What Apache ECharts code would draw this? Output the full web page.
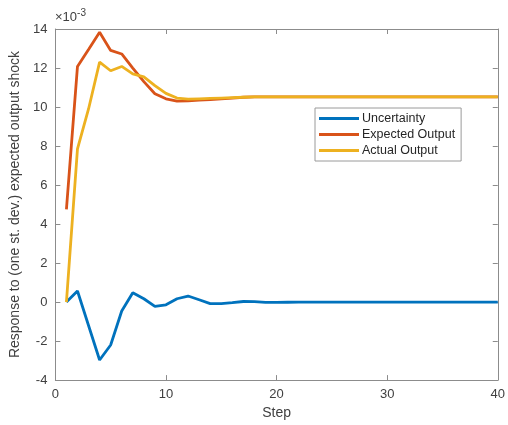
<!DOCTYPE html>
<html>
<head>
<meta charset="utf-8">
<script src="https://cdn.jsdelivr.net/npm/echarts@6/dist/echarts.min.js"></script>
<style>
  html, body { margin: 0; padding: 0; background: #fff; }
  #chart { width: 508px; height: 425px; }
</style>
</head>
<body>
<div id="chart"></div>
<script>
// Impulse responses, values in units of 1e-3
const steps = [];
for (let i = 1; i <= 40; i++) steps.push(i);

const uncertainty = [0, 0.57, -1.2, -2.97, -2.2, -0.46, 0.48, 0.17, -0.22, -0.14,
  0.17, 0.31, 0.12, -0.08, -0.08, -0.03, 0.03, 0.02, -0.02, -0.02,
  -0.01, 0, 0, 0, 0, 0, 0, 0, 0, 0,
  0, 0, 0, 0, 0, 0, 0, 0, 0, 0];

const expectedOutput = [4.75, 12.08, 12.95, 13.83, 12.9, 12.72, 12.0, 11.3, 10.68, 10.42,
  10.3, 10.32, 10.35, 10.38, 10.42, 10.46, 10.5, 10.52, 10.52, 10.52,
  10.52, 10.52, 10.52, 10.52, 10.52, 10.52, 10.52, 10.52, 10.52, 10.52,
  10.52, 10.52, 10.52, 10.52, 10.52, 10.52, 10.52, 10.52, 10.52, 10.52];

const actualOutput = [0, 7.85, 9.9, 12.3, 11.86, 12.08, 11.7, 11.55, 11.1, 10.7,
  10.46, 10.4, 10.42, 10.44, 10.46, 10.48, 10.5, 10.52, 10.52, 10.52,
  10.52, 10.52, 10.52, 10.52, 10.52, 10.52, 10.52, 10.52, 10.52, 10.52,
  10.52, 10.52, 10.52, 10.52, 10.52, 10.52, 10.52, 10.52, 10.52, 10.52];

const seriesNames = ['Uncertainty', 'Expected Output', 'Actual Output'];
const seriesColors = ['#0072BD', '#D95319', '#EDB120'];

const axisGray = '#8c8c8c';
const textGray = '#404040';
const font = 'Liberation Sans, Arial, sans-serif';

function pairs(vals) { return steps.map((s, i) => [s, vals[i]]); }

const chart = echarts.init(document.getElementById('chart'), null, { renderer: 'canvas' });

const frameX = {
  type: 'value', min: 0, max: 40, interval: 10,
  axisLine: { show: true, onZero: false, lineStyle: { color: axisGray, width: 1 } },
  axisTick: { show: true, inside: true, length: 5, lineStyle: { color: axisGray } },
  splitLine: { show: false }
};
const frameY = {
  type: 'value', min: -4, max: 14, interval: 2,
  axisLine: { show: true, onZero: false, lineStyle: { color: axisGray, width: 1 } },
  axisTick: { show: true, inside: true, length: 5, lineStyle: { color: axisGray } },
  splitLine: { show: false }
};

chart.setOption({
  animation: false,
  backgroundColor: '#fff',
  grid: { left: 53, right: 9, top: 29, bottom: 43, containLabel: false },
  xAxis: [
    Object.assign({}, frameX, {
      position: 'bottom',
      name: 'Step', nameLocation: 'middle', nameGap: 24,
      nameTextStyle: { color: textGray, fontSize: 14, fontFamily: font },
      axisLabel: { color: textGray, fontSize: 13, fontFamily: font, margin: 8 }
    }),
    Object.assign({}, frameX, { position: 'top', axisLabel: { show: false } })
  ],
  yAxis: [
    Object.assign({}, frameY, {
      position: 'left',
      name: 'Response to (one st. dev.) expected output shock',
      nameLocation: 'middle', nameGap: 29,
      nameTextStyle: { color: textGray, fontSize: 14, fontFamily: font },
      axisLabel: { color: textGray, fontSize: 13, fontFamily: font, margin: 8 }
    }),
    Object.assign({}, frameY, { position: 'right', axisLabel: { show: false } })
  ],
  legend: {
    orient: 'vertical',
    left: 315, top: 108,
    data: seriesNames,
    icon: 'rect',
    itemWidth: 40, itemHeight: 3,
    itemGap: 3,
    padding: [4, 6, 4, 4],
    borderColor: '#9a9a9a', borderWidth: 1,
    backgroundColor: '#fff',
    textStyle: { color: '#262626', fontSize: 12.5, fontFamily: font, padding: [0, 0, 0, -2] }
  },
  graphic: [{
    type: 'text',
    left: 55, top: 8,
    style: {
      text: '×10{sup|-3}',
      fill: textGray,
      font: '13px ' + font,
      rich: { sup: { fontSize: 10, fill: textGray, verticalAlign: 'top', padding: [0, 0, 8, 0] } }
    }
  }],
  series: [
    { name: seriesNames[0], data: pairs(uncertainty) },
    { name: seriesNames[1], data: pairs(expectedOutput) },
    { name: seriesNames[2], data: pairs(actualOutput) }
  ].map((s, i) => ({
    name: s.name,
    type: 'line',
    data: s.data,
    xAxisIndex: 0, yAxisIndex: 0,
    showSymbol: false,
    symbol: 'none',
    color: seriesColors[i],
    lineStyle: { color: seriesColors[i], width: 2.8 },
    z: 2 + i
  }))
});
</script>
</body>
</html>
